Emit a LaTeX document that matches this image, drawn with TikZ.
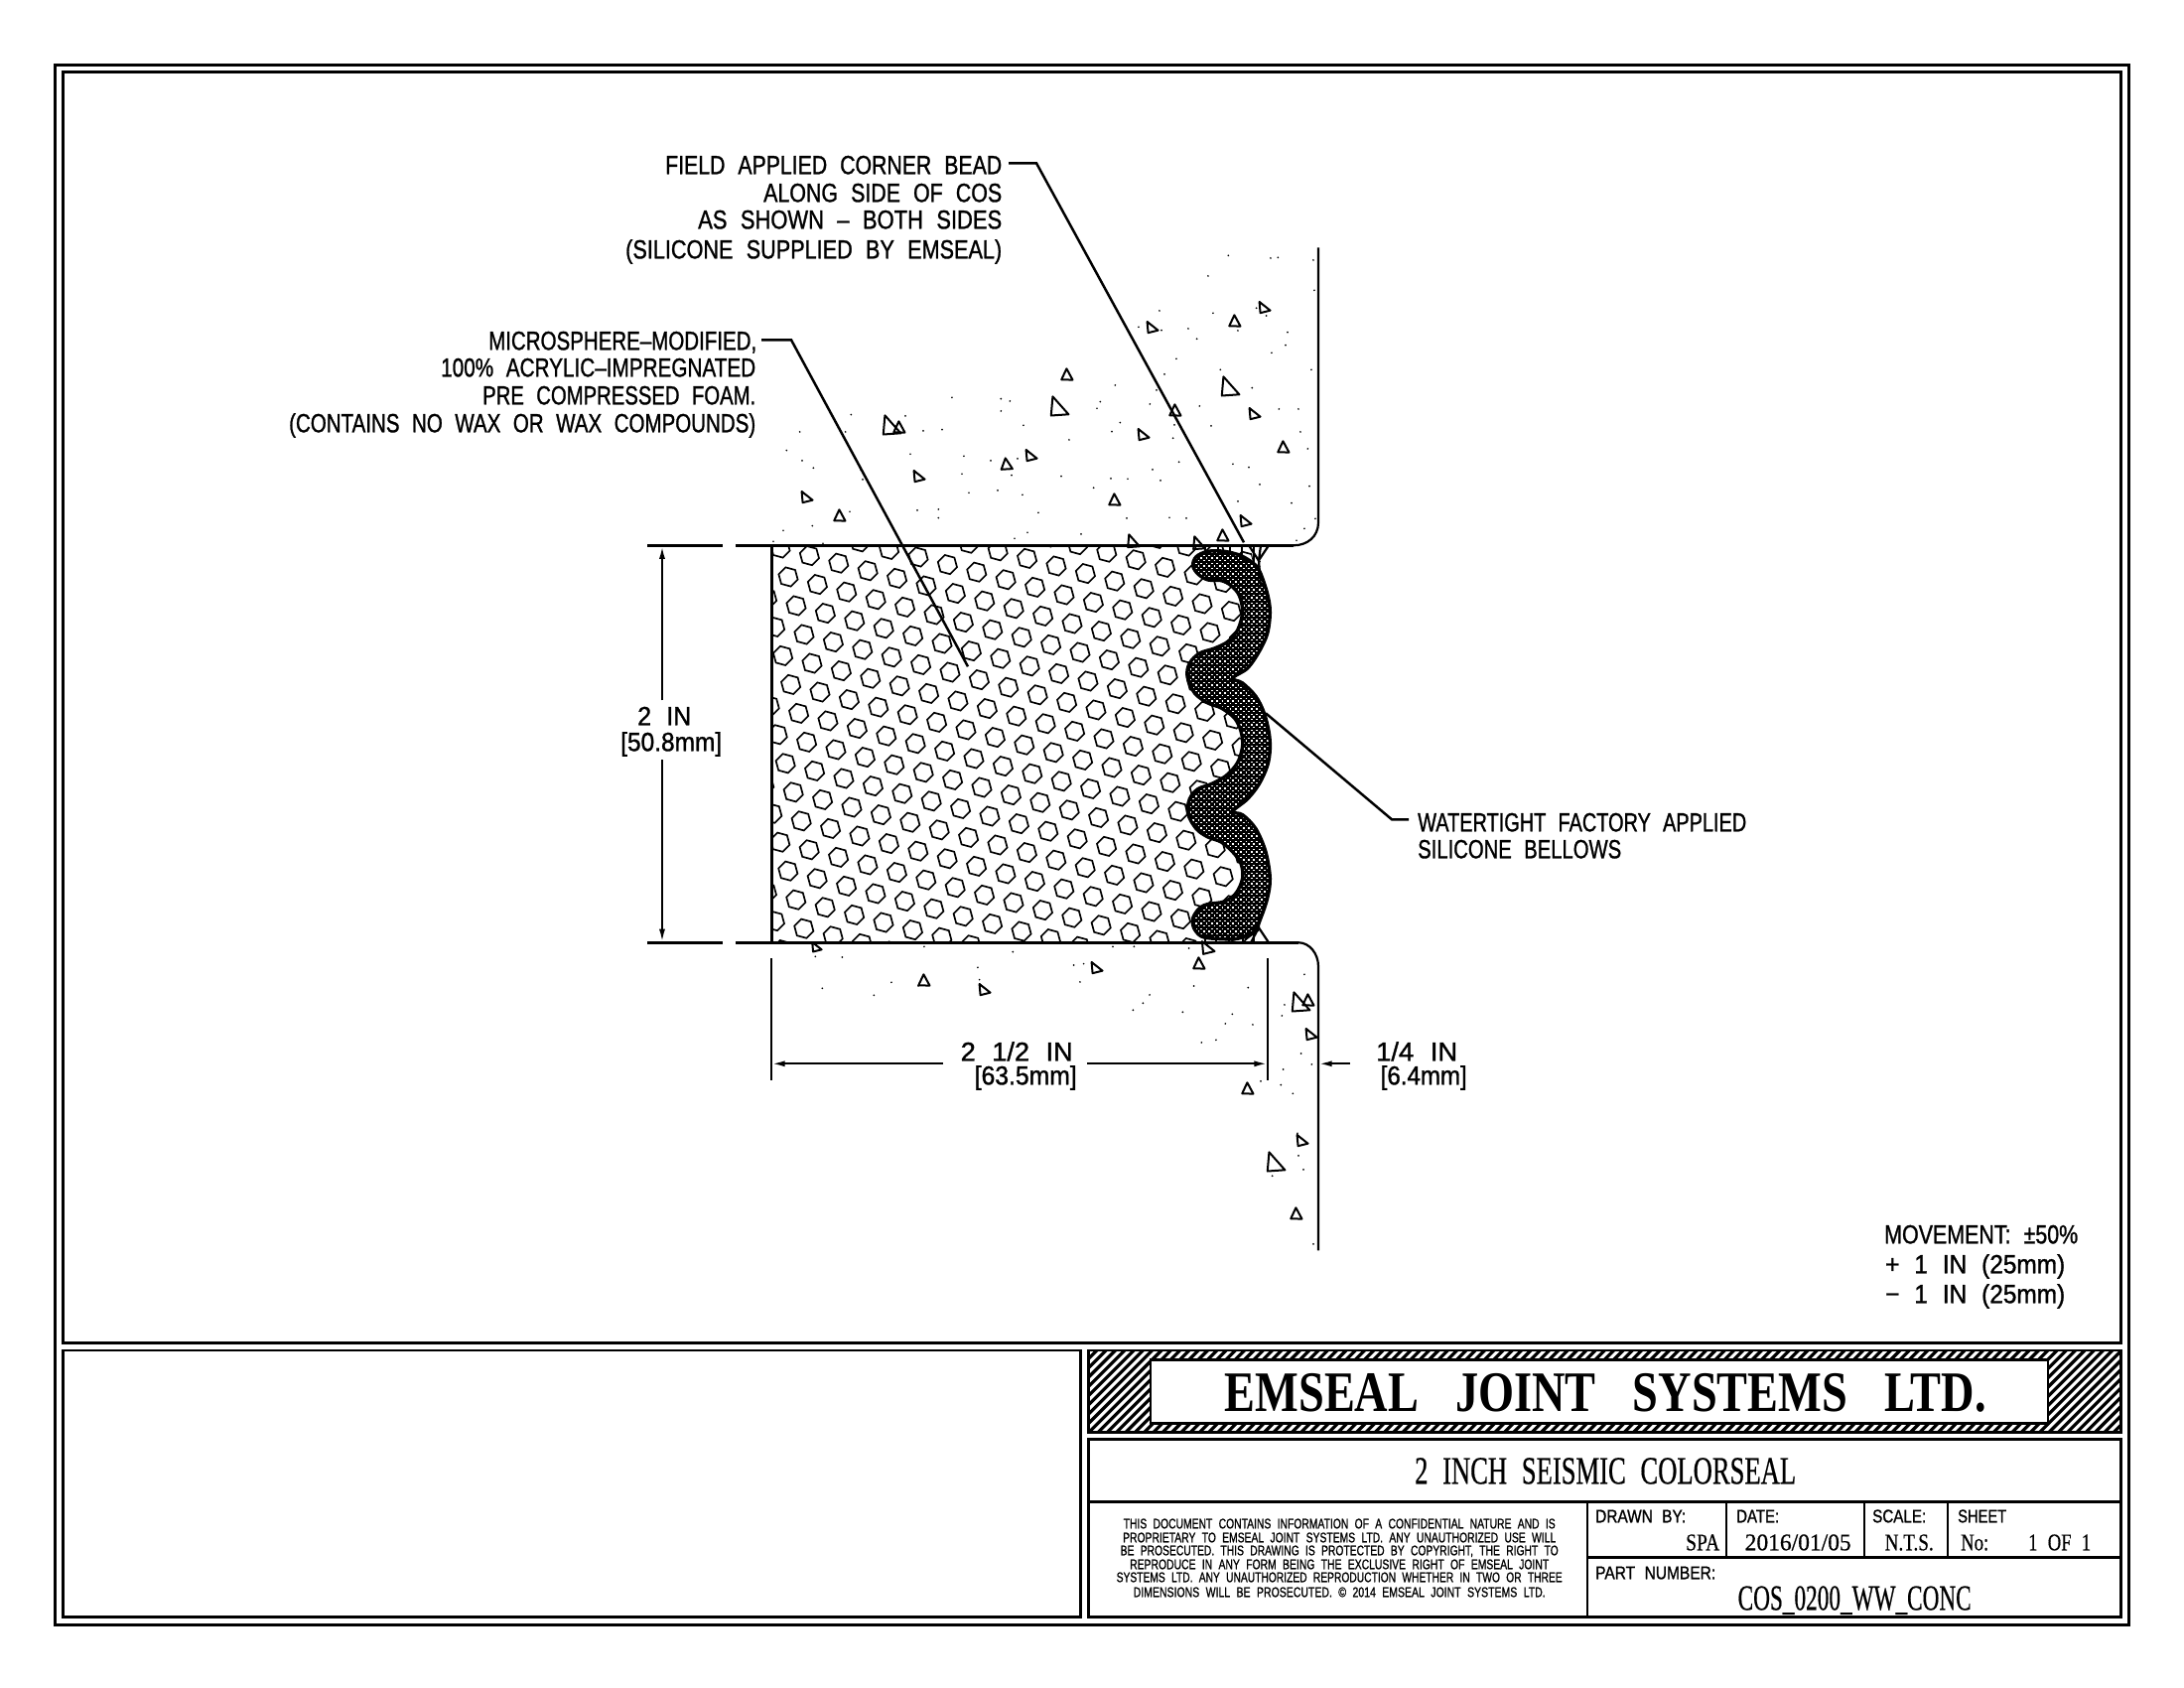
\documentclass[tikz,border=0pt]{standalone}
\usepackage{graphicx}
\usepackage{fontspec}
\usetikzlibrary{arrows.meta}
\newfontfamily\cadsans[WordSpace=2.2,FakeBold=1.2]{Liberation Sans}
\newfontfamily\cadserif[WordSpace=2.2,FakeBold=0.6]{Liberation Serif}
\newfontfamily\cadhead[WordSpace=3.2]{Liberation Serif}
\newlength\ux \setlength\ux{0.25pt}
\newcommand\sst[3]{\resizebox{#1\ux}{\height}{\fontsize{#2}{#2}\cadsans #3}}
\newcommand\srf[3]{\resizebox{#1\ux}{\height}{\fontsize{#2}{#2}\cadserif #3}}
\newcommand\srb[3]{\resizebox{#1\ux}{\height}{\fontsize{#2}{#2}\cadhead\bfseries #3}}
\tikzset{
  frameline/.style={line width=0.72pt,draw=black},
  wall/.style={line width=0.55pt,draw=black},
  foamline/.style={line width=0.75pt,draw=black},
  leader/.style={line width=0.62pt,draw=black},
  dimline/.style={line width=0.55pt,draw=black},
  dimtip/.style={-{Latex[length=3.4pt,width=1.5pt]}},
  hexcell/.style={line width=0.42pt,draw=black},
  aggr/.style={line width=0.5pt,draw=black,line join=round},
  lbl/.style={inner sep=0pt,outer sep=0pt,xshift=0.3pt}
}
% up-pointing aggregate: apex, then two base corners
\newcommand\aggregate[4]{\draw[aggr,shift={(#1,#2)}] (#3:#4) -- ({#3+133}:#4) -- ({#3+240}:#4) -- cycle;}
% right-pointing aggregate: upright back edge and a sharp tip to the lower right
\newcommand\aggregateR[4]{\draw[aggr,shift={(#1,#2)}] (#3:#4) -- ({#3+105}:{#4*0.85}) -- ({#3+215}:{#4*1.1}) -- cycle;}
\newcommand\speck[1]{\fill #1 circle[radius=0.24pt];}
\begin{document}
\begin{tikzpicture}[x=0.25pt,y=-0.25pt]
\useasboundingbox (0,-1.3) rectangle (2200,1698.7);
\fill[white] (0,-1.3) rectangle (2200,1698.7);

% --- foam hexagon cells
\begin{scope}
\clip (777,548) -- (1260,548) -- (1265,583) -- (1265,613) -- (1257,647) -- (1220,673) -- (1237,697) -- (1263,740) -- (1257,780) -- (1220,810) -- (1247,840) -- (1265,883) -- (1253,917) -- (1260,948) -- (777,948) -- cycle;
\foreach \i in {-22,...,3}{
  \foreach \j in {-4,...,22}{
    \draw[hexcell,shift={({1211+\i*29.4+\j*8},{606.7+\i*7.6+\j*29})}]
      (9.6,2.6) -- (2.6,9.6) -- (-7,7) -- (-9.6,-2.6) -- (-2.6,-9.6) -- (7,-7) -- cycle;
  }
}
\end{scope}

% --- concrete speckle, top block
\begin{scope}[shift={(760,240)},x=0.08333pt,y=-0.08333pt]
\foreach \p in {(597,477),(292,529),(137,581),(456,533),(275,581),(510,578),(567,574),(97,637),(144,668),(178,690),(471,648),(633,654),(627,708),(714,668),(795,662),(777,712),(648,765),(735,758),(810,771),(322,697),(327,725),(492,818),(556,815),(556,841),(288,822),(175,865),(87,879),(57,912),(207,918),(745,481),(772,488),(745,518),(813,561),(951,605),(927,715),(858,825),(786,903),(825,885),(987,890)}{\speck{\p}}
\end{scope}
\begin{scope}[shift={(1000,240)},x=0.08333pt,y=-0.08333pt]
\foreach \p in {(712,48),(840,56),(862,54),(969,62),(651,110),(972,153),(666,222),(504,215),(441,264),(510,274),(591,269),(617,300),(741,275),(797,207),(827,230),(891,280),(885,319),(843,342),(555,360),(963,393),(688,393),(519,407),(784,448),(370,440),(495,455),(325,490),(315,510),(475,497),(625,503),(865,512),(924,512),(930,581),(952,632),(385,553),(360,580),(545,600),(660,563),(549,560),(563,672),(483,695),(507,728),(408,723),(357,722),(305,750),(726,678),(774,688),(807,740),(957,745),(741,791),(903,796),(534,840),(585,842),(405,842),(975,843),(942,873),(918,909)}{\speck{\p}}
\end{scope}
% --- concrete speckle, bottom block
\begin{scope}[shift={(760,940)},x=0.08333pt,y=-0.08333pt]
\foreach \p in {(513,36),(184,66),(265,68),(205,162),(414,144),(361,183),(495,155),(675,99),(680,136),(781,52),(965,92),(995,88),(984,143)}{\speck{\p}}
\end{scope}
\begin{scope}[shift={(1100,930)},x=0.08333pt,y=-0.08333pt]
\foreach \p in {(63,66),(127,66),(293,71),(642,150),(308,185),(472,190),(174,212),(154,237),(124,258),(274,264),(582,242),(574,275),(424,270),(403,299),(486,302),(375,348),(331,356),(632,389),(664,422),(578,437),(510,473),(571,484),(607,510),(621,630),(624,698),(639,740),(545,759),(669,965)}{\speck{\p}}
\end{scope}

% --- aggregate triangles
\aggregate{1075}{377}{-95}{7}
\aggregateR{1066}{410}{30}{12}
\aggregateR{1038}{458}{20}{7}
\aggregate{1014}{467}{-100}{7}
\aggregateR{1151}{437}{20}{7}
\aggregateR{1160}{329}{20}{7}
\aggregate{1244}{323}{-95}{7}
\aggregateR{1273}{309}{20}{7}
\aggregateR{1238}{390}{30}{12}
\aggregateR{1263}{416}{20}{7}
\aggregate{1293}{450}{-95}{7}
\aggregate{1184}{413}{-95}{7}
\aggregate{1123}{503}{-95}{7}
\aggregateR{1254}{524}{20}{7}
\aggregate{1232}{539}{-95}{7}
\aggregateR{1207}{547}{30}{8}
\aggregateR{1141}{545}{30}{8}
\aggregateR{897}{429}{30}{12}
\aggregate{906}{430}{-95}{7}
\aggregateR{925}{479}{20}{7}
\aggregateR{812}{500}{20}{7}
\aggregate{846}{519}{-95}{7}
\aggregateR{822}{953}{20}{6}
\aggregate{931}{987}{-95}{7}
\aggregateR{991}{996}{20}{7}
\aggregateR{1104}{974}{20}{7}
\aggregateR{1216}{954}{20}{8}
\aggregate{1208}{970}{-95}{7}
\aggregateR{1309}{1010}{30}{12}
\aggregate{1318}{1007}{-95}{7}
\aggregateR{1320}{1041}{20}{7}
\aggregate{1257}{1096}{-95}{7}
\aggregateR{1311}{1148}{20}{7}
\aggregateR{1284}{1171}{30}{12}
\aggregate{1306}{1222}{-95}{7}

% --- bellows
\begin{scope}[shift={(1180,540)},x=0.08333pt,y=-0.08333pt]
\def\bellowspath{plot[smooth cycle,tension=0.55] coordinates {(65,85) (75,58) (110,42) (160,42) (210,55) (250,80) (268,105) (290,170) (298,225) (290,290) (265,345) (230,395) (185,425) (215,440) (255,480) (280,530) (295,590) (298,640) (290,690) (265,745) (230,790) (185,828) (215,838) (255,880) (285,950) (298,1030) (290,1090) (270,1150) (250,1190) (200,1212) (130,1212) (90,1205) (68,1180) (65,1150) (85,1120) (110,1108) (160,1100) (195,1075) (215,1030) (210,985) (185,950) (150,920) (110,905) (75,880) (50,835) (55,790) (80,760) (120,745) (165,720) (200,680) (215,630) (210,585) (190,545) (150,515) (110,500) (70,470) (48,420) (55,380) (85,350) (130,335) (170,315) (200,280) (215,225) (205,175) (180,145) (150,130) (110,128) (80,110)}}
\fill[black] \bellowspath;
\begin{scope}
\clip \bellowspath;
\foreach \r in {0,...,75}{
  \draw[white,line width=0.36pt,dash pattern=on 0.45pt off 0.88pt] (40,{30+\r*16}) -- (310,{30+\r*16});
  \draw[white,line width=0.36pt,dash pattern=on 0.45pt off 0.88pt,dash phase=0.665pt] (40,{38+\r*16}) -- (310,{38+\r*16});
}
\end{scope}
\draw[black,line width=0.85pt] \bellowspath;
\end{scope}

% --- corner beads, top and bottom
\begin{scope}[line width=0.55pt,black]
\draw (1278,548) -- (1268,563) -- (1270,590);
\draw (1263,548) -- (1263,568);
\draw (1270,548) -- (1268,563);
\draw (1251,560) -- (1269,570);
\draw (1258,548) -- (1269,565);
\draw (1214,548) -- (1214,556);
\draw (1227,548) -- (1227,556);
\draw (1239,548) -- (1239,556);
\draw (1251,548) -- (1251,558);
\draw (1278,948) -- (1268,933) -- (1268,915);
\draw (1263,948) -- (1263,930);
\draw (1254,945) -- (1268,935);
\draw (1260,948) -- (1268,933);
\draw (1214,948) -- (1214,940);
\draw (1225,948) -- (1225,940);
\draw (1238,948) -- (1238,940);
\draw (1252,948) -- (1252,938);
\end{scope}

% --- concrete and foam outlines
\coordinate (wallTopStart) at (1328,248);
\coordinate (wallTopEnd) at (1328,525);
\coordinate (lipTop) at (1303,548);
\coordinate (lipBot) at (1308,948);
\coordinate (wallBotStart) at (1328,972);
\coordinate (wallBotEnd) at (1328,1258);
\draw[wall] (wallTopStart) -- (wallTopEnd) .. controls (1328,539) and (1317,548) .. (lipTop);
\draw[wall] (lipBot) .. controls (1319,948) and (1328,959) .. (wallBotStart) -- (wallBotEnd);
\draw[foamline] (741,548) -- (lipTop);
\draw[foamline] (741,948) -- (lipBot);
\draw[foamline] (777,548) -- (777,948);
\draw[foamline] (652,548) -- (728,548);
\draw[foamline] (652,948) -- (728,948);

% --- extension lines
\draw[dimline] (777,964) -- (777,1087);
\draw[dimline] (1277,964) -- (1277,1087);
\draw[dimline] (1328,990) -- (1328,1087);

% --- dimension lines
\coordinate (dimL) at (950,1070);
\coordinate (dimR) at (1095,1070);
\coordinate (dimA) at (777,1070);
\coordinate (dimB) at (1277,1070);
\coordinate (dimC) at (1360,1070);
\coordinate (dimD) at (1328,1070);
\draw[dimline,dimtip] (dimL) -- (dimA);
\draw[dimline,dimtip] (dimR) -- (dimB);
\draw[dimline,dimtip] (dimC) -- (dimD);
\coordinate (vA) at (667,704);
\coordinate (vB) at (667,548);
\coordinate (vC) at (667,764);
\coordinate (vD) at (667,948);
\draw[dimline,dimtip] (vA) -- (vB);
\draw[dimline,dimtip] (vC) -- (vD);

% --- leaders
\coordinate (fieldA) at (1016,163);
\coordinate (fieldB) at (1044,163);
\coordinate (fieldC) at (1253,545);
\coordinate (microA) at (767,341);
\coordinate (microB) at (797,341);
\coordinate (microC) at (975,670);
\coordinate (waterA) at (1419,824);
\coordinate (waterB) at (1402,824);
\coordinate (waterC) at (1275,717);
\draw[leader,line join=miter] (fieldA) -- (fieldB) -- (fieldC);
\draw[leader,line join=miter] (microA) -- (microB) -- (microC);
\draw[leader,line join=miter] (waterA) -- (waterB) -- (waterC);

% --- callouts
\node[lbl,anchor=base east] (f1) at (1008,174) {\sst{339}{6.6}{FIELD APPLIED CORNER BEAD}};
\node[lbl,anchor=base east] (f2) at (1008,202) {\sst{240}{6.6}{ALONG SIDE OF COS}};
\node[lbl,anchor=base east] (f3) at (1008,229) {\sst{306}{6.6}{AS SHOWN – BOTH SIDES}};
\node[lbl,anchor=base east] (f4) at (1008,259) {\sst{379}{6.6}{(SILICONE SUPPLIED BY EMSEAL)}};
\node[lbl,anchor=base east] (m1) at (761,351) {\sst{270}{6.6}{MICROSPHERE–MODIFIED,}};
\node[lbl,anchor=base east] (m2) at (760,378) {\sst{317}{6.6}{100\% ACRYLIC–IMPREGNATED}};
\node[lbl,anchor=base east] (m3) at (760,406) {\sst{275}{6.6}{PRE COMPRESSED FOAM.}};
\node[lbl,anchor=base east] (m4) at (760,434) {\sst{470}{6.6}{(CONTAINS NO WAX OR WAX COMPOUNDS)}};
\node[lbl,anchor=base west] (w1) at (1427,836) {\sst{331}{6.6}{WATERTIGHT FACTORY APPLIED}};
\node[lbl,anchor=base west] (w2) at (1427,863) {\sst{205}{6.6}{SILICONE BELLOWS}};
\node[lbl,anchor=base] (d1) at (668,729) {\sst{54}{6.6}{2 IN}};
\node[lbl,anchor=base] (d2) at (675,755) {\sst{102}{6.6}{[50.8mm]}};
\node[lbl,anchor=base] (d3) at (1023,1067) {\sst{113}{6.6}{2 1/2 IN}};
\node[lbl,anchor=base] (d4) at (1032,1091) {\sst{103}{6.6}{[63.5mm]}};
\node[lbl,anchor=base] (d5) at (1426,1067) {\sst{82}{6.6}{1/4 IN}};
\node[lbl,anchor=base] (d6) at (1433,1091) {\sst{87}{6.6}{[6.4mm]}};
\node[lbl,anchor=base west] (mv1) at (1897,1251) {\sst{195}{6.6}{MOVEMENT: ±50\%}};
\node[lbl,anchor=base west] (mv2) at (1898,1281) {\sst{181}{6.6}{+ 1 IN (25mm)}};
\node[lbl,anchor=base west] (mv3) at (1898,1311) {\sst{181}{6.6}{− 1 IN (25mm)}};

% --- sheet frame
\draw[frameline] (55.5,64.5) rectangle (2144.5,1635);
\draw[frameline] (63.5,71) rectangle (2136.5,1351);
\draw[frameline] (63.5,1358.7) rectangle (1088.7,1627);

% --- title hatch
\begin{scope}
\clip (1096.5,1358.7) rectangle (2136.5,1441);
\foreach \k in {0,...,135}{
  \draw[black,line width=0.8pt] ({1000+\k*9.3},1445) -- ({1090+\k*9.3},1355);
}
\end{scope}
\draw[frameline] (1096.5,1358.7) rectangle (2136.5,1441);
\draw[frameline,fill=white] (1159,1368.5) rectangle (2063,1432);
\draw[frameline] (1096.5,1448.5) rectangle (2136.5,1627);
\draw[frameline] (1096.5,1511) -- (2136.5,1511);
\draw[frameline] (1599,1511) -- (1599,1627);
\draw[frameline] (1599,1567) -- (2136.5,1567);
\draw[frameline] (1739,1511) -- (1739,1567);
\draw[frameline] (1878,1511) -- (1878,1567);
\draw[frameline] (1962,1511) -- (1962,1567);

% --- title block text
\node[lbl,anchor=base] (t1) at (1616,1420) {\srb{767}{14.4}{EMSEAL JOINT SYSTEMS LTD.}};
\node[lbl,anchor=base] (t2) at (1616,1493) {\srf{384}{9.85}{2 INCH SEISMIC COLORSEAL}};
\node[lbl,anchor=base] (n1) at (1348,1538) {\sst{435}{3.5}{THIS DOCUMENT CONTAINS INFORMATION OF A CONFIDENTIAL NATURE AND IS}};
\node[lbl,anchor=base] (n2) at (1348,1552) {\sst{436}{3.5}{PROPRIETARY TO EMSEAL JOINT SYSTEMS LTD. ANY UNAUTHORIZED USE WILL}};
\node[lbl,anchor=base] (n3) at (1348,1565) {\sst{441}{3.5}{BE PROSECUTED. THIS DRAWING IS PROTECTED BY COPYRIGHT, THE RIGHT TO}};
\node[lbl,anchor=base] (n4) at (1348,1579) {\sst{422}{3.5}{REPRODUCE IN ANY FORM BEING THE EXCLUSIVE RIGHT OF EMSEAL JOINT}};
\node[lbl,anchor=base] (n5) at (1348,1592) {\sst{449}{3.5}{SYSTEMS LTD. ANY UNAUTHORIZED REPRODUCTION WHETHER IN TWO OR THREE}};
\node[lbl,anchor=base] (n6) at (1348,1607) {\sst{415}{3.5}{DIMENSIONS WILL BE PROSECUTED. © 2014 EMSEAL JOINT SYSTEMS LTD.}};
\node[lbl,anchor=base west] (b1) at (1606,1532) {\sst{91}{4.6}{DRAWN BY:}};
\node[lbl,anchor=base east] (b2) at (1731,1560) {\srf{34}{6}{SPA}};
\node[lbl,anchor=base west] (b3) at (1748,1532) {\sst{43}{4.6}{DATE:}};
\node[lbl,anchor=base] (b4) at (1810,1560) {\srf{107}{6}{2016/01/05}};
\node[lbl,anchor=base west] (b5) at (1885,1532) {\sst{54}{4.6}{SCALE:}};
\node[lbl,anchor=base] (b6) at (1922,1560) {\srf{49}{6}{N.T.S.}};
\node[lbl,anchor=base west] (b7) at (1971,1532) {\sst{49}{4.6}{SHEET}};
\node[lbl,anchor=base west] (b8) at (1974,1560) {\srf{28}{6}{No:}};
\node[lbl,anchor=base west] (b9) at (2042,1560) {\srf{63}{6}{1 OF 1}};
\node[lbl,anchor=base west] (b10) at (1606,1589) {\sst{121}{4.6}{PART NUMBER:}};
\node[lbl,anchor=base] (b11) at (1867,1620) {\srf{235}{9}{COS\_0200\_WW\_CONC}};
\end{tikzpicture}
\end{document}
